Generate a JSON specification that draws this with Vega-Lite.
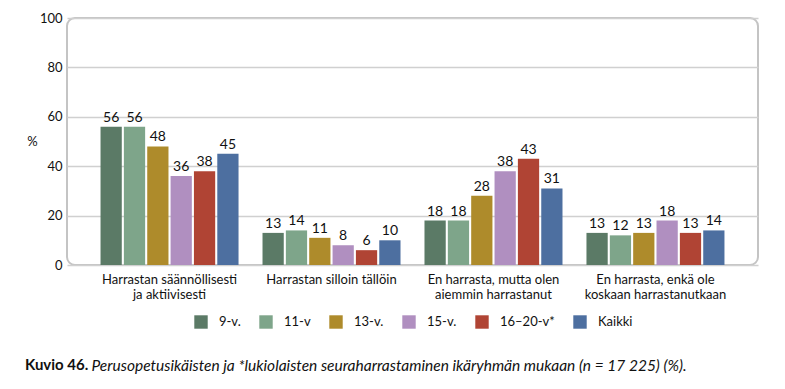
{
  "$schema": "https://vega.github.io/schema/vega-lite/v6.json",
  "width": 691,
  "height": 247,
  "autosize": {"type": "none"},
  "padding": {"left": 67, "top": 18, "right": 27, "bottom": 124},
  "background": "white",
  "config": {
    "font": "Lato",
    "view": {"stroke": "#c4c4c4", "strokeWidth": 2, "cornerRadius": 8}
  },
  "title": {
    "text": "Kuvio 46.",
    "orient": "top",
    "anchor": "start",
    "frame": "group",
    "baseline": "alphabetic",
    "offset": 0,
    "dx": -42,
    "dy": 373,
    "font": "Lato",
    "fontSize": 15,
    "fontWeight": "bold",
    "color": "#111111"
  },
  "data": {
    "values": [
      {"group": "Harrastan säännöllisesti|ja aktiivisesti", "age": "9-v.", "value": 56},
      {"group": "Harrastan säännöllisesti|ja aktiivisesti", "age": "11-v", "value": 56},
      {"group": "Harrastan säännöllisesti|ja aktiivisesti", "age": "13-v.", "value": 48},
      {"group": "Harrastan säännöllisesti|ja aktiivisesti", "age": "15-v.", "value": 36},
      {"group": "Harrastan säännöllisesti|ja aktiivisesti", "age": "16–20-v*", "value": 38},
      {"group": "Harrastan säännöllisesti|ja aktiivisesti", "age": "Kaikki", "value": 45},
      {"group": "Harrastan silloin tällöin", "age": "9-v.", "value": 13},
      {"group": "Harrastan silloin tällöin", "age": "11-v", "value": 14},
      {"group": "Harrastan silloin tällöin", "age": "13-v.", "value": 11},
      {"group": "Harrastan silloin tällöin", "age": "15-v.", "value": 8},
      {"group": "Harrastan silloin tällöin", "age": "16–20-v*", "value": 6},
      {"group": "Harrastan silloin tällöin", "age": "Kaikki", "value": 10},
      {"group": "En harrasta, mutta olen|aiemmin harrastanut", "age": "9-v.", "value": 18},
      {"group": "En harrasta, mutta olen|aiemmin harrastanut", "age": "11-v", "value": 18},
      {"group": "En harrasta, mutta olen|aiemmin harrastanut", "age": "13-v.", "value": 28},
      {"group": "En harrasta, mutta olen|aiemmin harrastanut", "age": "15-v.", "value": 38},
      {"group": "En harrasta, mutta olen|aiemmin harrastanut", "age": "16–20-v*", "value": 43},
      {"group": "En harrasta, mutta olen|aiemmin harrastanut", "age": "Kaikki", "value": 31},
      {"group": "En harrasta, enkä ole|koskaan harrastanutkaan", "age": "9-v.", "value": 13},
      {"group": "En harrasta, enkä ole|koskaan harrastanutkaan", "age": "11-v", "value": 12},
      {"group": "En harrasta, enkä ole|koskaan harrastanutkaan", "age": "13-v.", "value": 13},
      {"group": "En harrasta, enkä ole|koskaan harrastanutkaan", "age": "15-v.", "value": 18},
      {"group": "En harrasta, enkä ole|koskaan harrastanutkaan", "age": "16–20-v*", "value": 13},
      {"group": "En harrasta, enkä ole|koskaan harrastanutkaan", "age": "Kaikki", "value": 14}
    ]
  },
  "encoding": {
    "x": {
      "field": "group",
      "type": "nominal",
      "sort": null,
      "scale": {"paddingInner": 0.148, "paddingOuter": 0.207},
      "axis": {
        "title": "Perusopetusikäisten ja *lukiolaisten seuraharrastaminen ikäryhmän mukaan (n = 17 225) (%).",
        "titleFont": "Lato",
        "titleFontSize": 15.5,
        "titleFontStyle": "italic",
        "titleFontWeight": "normal",
        "titleColor": "#111111",
        "titleX": 24,
        "titleY": 105,
        "titleAlign": "left",
        "titleAnchor": "start",
        "titleBaseline": "alphabetic",
        "labelAngle": 0,
        "labelExpr": "split(datum.label, '|')",
        "labelFontSize": 13,
        "labelColor": "#111111",
        "labelLineHeight": 15,
        "labelPadding": 8,
        "ticks": false,
        "domain": false,
        "labelLimit": 200
      }
    },
    "xOffset": {
      "field": "age",
      "type": "nominal",
      "sort": ["9-v.", "11-v", "13-v.", "15-v.", "16–20-v*", "Kaikki"],
      "scale": {"paddingInner": 0.09}
    },
    "y": {
      "field": "value",
      "type": "quantitative",
      "scale": {"domain": [0, 100]},
      "axis": {
        "values": [0, 20, 40, 60, 80, 100],
        "title": "%",
        "titleAngle": 0,
        "titleX": -35,
        "titleY": 130,
        "titleFontSize": 13,
        "titleFontWeight": "normal",
        "titleColor": "#111111",
        "labelFontSize": 13,
        "labelColor": "#111111",
        "labelPadding": 5,
        "ticks": false,
        "domain": false,
        "gridColor": "#d0d0d0",
        "gridWidth": 1.5
      }
    }
  },
  "layer": [
    {
      "mark": {"type": "bar"},
      "encoding": {
        "color": {
          "field": "age",
          "type": "nominal",
          "scale": {
            "domain": ["9-v.", "11-v", "13-v.", "15-v.", "16–20-v*", "Kaikki"],
            "range": ["#5b7a66", "#7ea58a", "#ae8b2b", "#b08fc0", "#b04434", "#4d6fa0"]
          },
          "legend": {
            "orient": "none",
            "legendX": 127,
            "legendY": 297,
            "direction": "horizontal",
            "title": null,
            "symbolType": "square",
            "symbolSize": 180,
            "symbolStrokeWidth": 0,
            "symbolOpacity": 1,
            "labelFontSize": 13,
            "labelColor": "#111111",
            "labelOffset": 11,
            "columnPadding": 18
          }
        }
      }
    },
    {
      "mark": {"type": "text", "dy": -9, "fontSize": 14, "color": "#111111"},
      "encoding": {"text": {"field": "value", "type": "quantitative"}}
    }
  ]
}
